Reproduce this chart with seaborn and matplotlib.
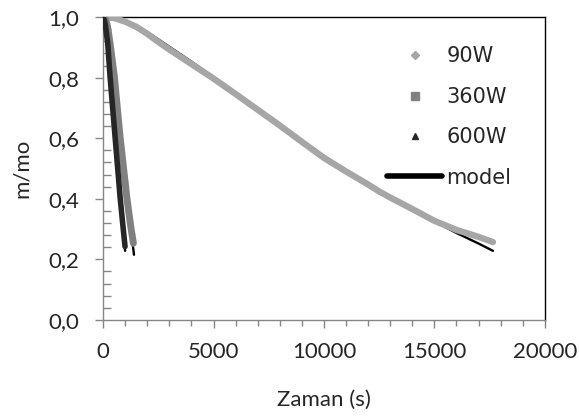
import numpy as np
import pandas as pd
import matplotlib
matplotlib.use('Agg')
import matplotlib.pyplot as plt
from matplotlib.lines import Line2D
from matplotlib.ticker import MultipleLocator
from matplotlib.font_manager import FontProperties
import seaborn as sns

# veri
t_90w = [0, 500, 1000, 1500, 2000, 2500, 3000, 4000, 5000, 6000, 7000, 8000, 9000,
         10000, 11000, 12000, 12500, 13000, 14000, 15000, 16000, 17000, 17650]
m_90w = [1.0, 0.997, 0.985, 0.968, 0.945, 0.918, 0.893, 0.845, 0.797, 0.746, 0.694,
         0.642, 0.588, 0.535, 0.490, 0.447, 0.424, 0.404, 0.366, 0.327, 0.297, 0.274, 0.257]

t_360w = [0, 100, 200, 317, 511, 769, 1071, 1250, 1373]
m_360w = [1.0, 0.995, 0.97, 0.913, 0.803, 0.605, 0.407, 0.310, 0.253]

t_600w = [0, 60, 120, 211, 317, 543, 769, 900, 995]
m_600w = [1.0, 0.99, 0.965, 0.913, 0.803, 0.605, 0.407, 0.310, 0.242]

t_model90 = [0, 1000, 2000, 3000, 4000, 5000, 6000, 7000, 8000, 9000, 10000, 11000,
             12000, 13000, 14000, 15000, 16000, 17000, 17650]
m_model90 = [1.0, 0.99, 0.951, 0.902, 0.853, 0.802, 0.75, 0.697, 0.644, 0.592, 0.541,
             0.494, 0.449, 0.406, 0.365, 0.325, 0.287, 0.252, 0.228]

t_model360 = [0, 150, 317, 511, 769, 1071, 1250, 1400]
m_model360 = [1.0, 0.985, 0.913, 0.803, 0.605, 0.407, 0.305, 0.215]

t_model600 = [0, 100, 211, 317, 543, 769, 900, 1000]
m_model600 = [1.0, 0.98, 0.913, 0.803, 0.605, 0.407, 0.300, 0.228]

y_ticks = [0.0, 0.2, 0.4, 0.6, 0.8, 1.0]
y_labels = ['0,0', '0,2', '0,4', '0,6', '0,8', '1,0']
x_ticks = [0, 5000, 10000, 15000, 20000]

sns.set_theme(style='white')
plt.rcParams['font.family'] = ['Lato', 'DejaVu Sans']

fig = plt.figure(figsize=(5.79, 4.17), dpi=100)
ax = fig.add_axes([0.178, 0.233, 0.763, 0.726])

# model egrileri (altta)
for t, m in [(t_model90, m_model90), (t_model360, m_model360), (t_model600, m_model600)]:
    sns.lineplot(x=t, y=m, ax=ax, color='black', linewidth=1.7, sort=False,
                 estimator=None, zorder=2, solid_capstyle='round')

sns.lineplot(x=t_90w, y=m_90w, ax=ax, color='#a6a6a6', linewidth=4.6, sort=False,
             estimator=None, zorder=3, solid_capstyle='round')
sns.lineplot(x=t_360w, y=m_360w, ax=ax, color='#808080', linewidth=5.0, sort=False,
             estimator=None, zorder=4, solid_capstyle='round')
sns.lineplot(x=t_600w, y=m_600w, ax=ax, color='#262626', linewidth=4.0, sort=False,
             estimator=None, zorder=5, solid_capstyle='round')

ax.set_xlim(0, 20000)
ax.set_ylim(0, 1.0)
ax.set_xticks(x_ticks)
ax.set_xticklabels([str(v) for v in x_ticks])
ax.set_yticks(y_ticks)
ax.set_yticklabels(y_labels)
ax.xaxis.set_minor_locator(MultipleLocator(1000))
ax.yaxis.set_minor_locator(MultipleLocator(0.04))

ax.spines['left'].set_color('#868686')
ax.spines['bottom'].set_color('#868686')
ax.spines['top'].set_color('black')
ax.spines['right'].set_color('black')
for s in ax.spines.values():
    s.set_linewidth(1.0)

ax.tick_params(axis='x', which='major', direction='out', length=6, width=1,
               color='#868686', labelsize=16, pad=10, bottom=True)
ax.tick_params(axis='x', which='minor', direction='out', length=4, width=1,
               color='#868686', bottom=True)
ax.tick_params(axis='y', which='major', direction='out', length=6, width=1,
               color='#868686', labelsize=16, pad=11, left=True)
ax.tick_params(axis='y', which='minor', direction='in', length=6, width=1,
               color='#868686', left=True)

ax.set_xlabel('Zaman (s)', fontsize=16, labelpad=20)
ax.set_ylabel('m/mo', fontsize=16, labelpad=12)

handles = [
    Line2D([], [], linestyle='none', marker='D', markersize=4, color='#a6a6a6'),
    Line2D([], [], linestyle='none', marker='s', markersize=6, color='#808080'),
    Line2D([], [], linestyle='none', marker='^', markersize=5, color='#262626'),
    Line2D([], [], color='black', linewidth=4, solid_capstyle='round'),
]
ax.legend(handles, ['90W', '360W', '600W', 'model'], loc='upper left',
          bbox_to_anchor=(0.643, 0.903), frameon=False, borderpad=0,
          borderaxespad=0, handlelength=2.65, handletextpad=0.2,
          labelspacing=0.98, prop=FontProperties(family='DejaVu Sans', size=15))

fig.savefig('out.png', dpi=100)
